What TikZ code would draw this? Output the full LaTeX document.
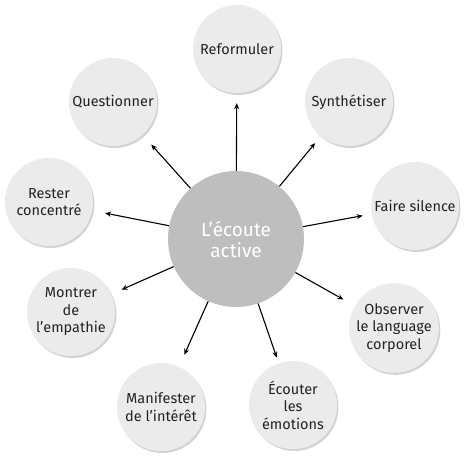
\documentclass[tikz,border=0pt]{standalone}
\usepackage{fontspec}
\setmainfont{Fira Sans}
\usetikzlibrary{arrows.meta,shadows}
\definecolor{outerfill}{RGB}{235,235,235}
\definecolor{centerfill}{RGB}{190,190,190}
\definecolor{txt}{RGB}{35,35,35}
\tikzset{
  outer/.style={circle, minimum size=88pt, inner sep=0pt, fill=outerfill,
    text=txt, font=\fontsize{14.5}{17.5}\selectfont, align=center,
    drop shadow={shadow xshift=1.5pt, shadow yshift=-2pt, opacity=0.35, fill=gray}},
  hub/.style={circle, minimum size=136pt, inner sep=0pt, fill=centerfill,
    text=white, font=\fontsize{19}{21}\selectfont, align=center},
  link/.style={draw=black, line width=1.1pt, -{Stealth[length=6pt,width=5pt]}, shorten >=#1},
  link/.default=11pt
}
\begin{document}
\begin{tikzpicture}[x=1pt,y=-1pt]
\useasboundingbox (0,0) rectangle (470,463);
\node[hub] (c) at (236,239) {L’écoute\\active};
\node[outer] (ref) at (237,49) {Reformuler};
\node[outer] (syn) at (349,102) {Synthétiser};
\node[outer] (fai) at (415,206) {Faire silence};
\node[outer] (obs) at (394,328) {Observer\\le language\\corporel};
\node[outer] (eco) at (293,405) {Écouter\\les\\émotions};
\node[outer] (man) at (161,407) {Manifester\\de l’intérêt};
\node[outer] (mon) at (71,312) {Montrer\\de\\l’empathie};
\node[outer] (res) at (49,202) {Rester\\concentré};
\node[outer] (que) at (113,102) {Questionner};
\draw[link=10pt] (c) -- (ref);
\draw[link=9pt] (c) -- (syn);
\draw[link=9pt] (c) -- (fai);
\draw[link=13pt] (c) -- (obs);
\draw[link=6pt] (c) -- (eco);
\draw[link=13pt] (c) -- (man);
\draw[link=11pt] (c) -- (mon);
\draw[link=13pt] (c) -- (res);
\draw[link=13pt] (c) -- (que);
\end{tikzpicture}
\end{document}
